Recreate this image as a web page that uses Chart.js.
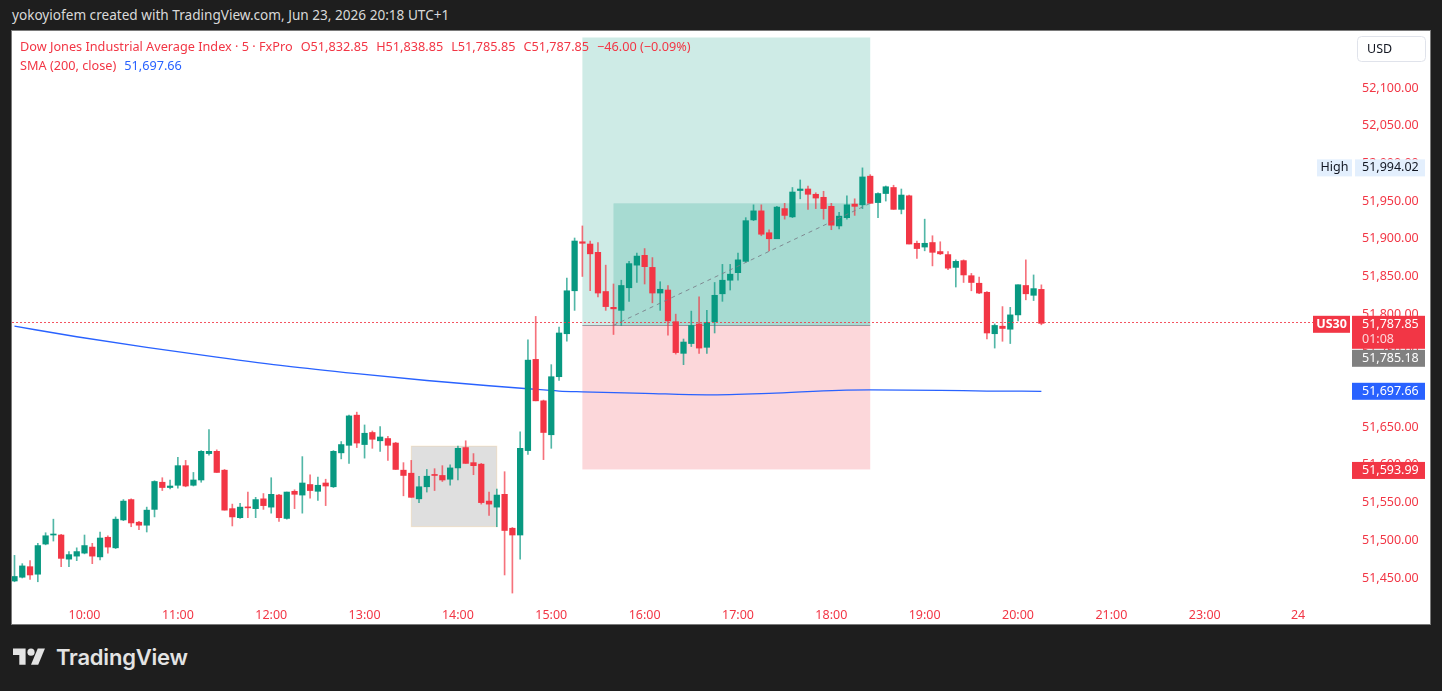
<!DOCTYPE html>
<html>
<head>
<meta charset="utf-8">
<title>Dow Jones Industrial Average Index · 5 · FxPro</title>
<script src="https://cdn.jsdelivr.net/npm/chart.js@4.4.1/dist/chart.umd.min.js"></script>
<style>
  html, body { margin: 0; padding: 0; width: 1442px; height: 691px; overflow: hidden; background: #1e1e1e; font-family: "Noto Sans", sans-serif; }
  #topbar { position: absolute; left: 12px; top: 5px; color: #d9d9d9; font-size: 13.6px; line-height: 20px; white-space: nowrap; }
  #frame { position: absolute; left: 11px; top: 30px; width: 1418px; height: 593px; border: 1px solid #7a7a7a; background: #fff; }
  #frame canvas { position: absolute; left: 0; top: 0; }
  #legend { position: absolute; left: 8px; top: 6px; font-size: 12.7px; line-height: 19px; color: #F23645; white-space: nowrap; pointer-events: none; }
  #legend .v { margin-left: 8px; }
  #legend .sma { color: #2962FF; }
  #footer { position: absolute; left: 13px; top: 645px; height: 26px; color: #e3e3e3; }
  #footer svg { position: absolute; left: 0; top: 0; }
  #footer span { position: absolute; left: 43px; top: -1px; font-family: Inter, sans-serif; font-weight: 600; font-size: 22px; line-height: 26px; letter-spacing: -0.2px; }
</style>
</head>
<body>
<div id="topbar">yokoyiofem created with TradingView.com, Jun 23, 2026 20:18 UTC+1</div>
<div id="frame">
  <canvas id="chart" width="1418" height="593"></canvas>
  <div id="legend">
    <div><span id="title">Dow Jones Industrial Average Index · 5 · FxPro</span><span class="v" id="o"></span><span class="v" id="h"></span><span class="v" id="l"></span><span class="v" id="c"></span><span class="v" id="chg"></span></div>
    <div><span>SMA (200, close)</span><span class="v sma" id="smaLast"></span></div>
  </div>
</div>
<div id="footer">
  <svg width="32.4" height="25.2" viewBox="0 0 36 28" fill="#e3e3e3"><path d="M14 22H7V11H0V4h14v18z"/><circle cx="20" cy="8" r="4"/><path d="M28 22h-8l7.5-18h8L28 22z"/></svg>
  <span>TradingView</span>
</div>
<script>
// 5 minute candles, first one at 09:15
var startTime = '09:15';
var open = [
  51446, 51451, 51465, 51455, 51495, 51507, 51507, 51475, 51479,
  51483, 51491, 51478, 51504, 51490, 51527, 51554, 51524, 51520, 51541, 51577, 51570,
  51573, 51599, 51573, 51580, 51615, 51618, 51593, 51542, 51530, 51544, 51542, 51555,
  51544, 51560, 51529, 51565, 51560, 51574, 51565, 51576, 51571, 51616, 51626, 51666,
  51627, 51643, 51632, 51635, 51629, 51593, 51589, 51555, 51571, 51587, 51586, 51581,
  51596, 51623, 51603, 51601, 51552, 51544, 51561, 51516, 51507, 51619, 51740, 51685,
  51640, 51717, 51774, 51831, 51896, 51893, 51882, 51830, 51809, 51805, 51835, 51865,
  51878, 51862, 51828, 51832, 51790, 51748, 51761, 51787, 51756, 51790, 51827, 51845,
  51855, 51870, 51925, 51937, 51908, 51900, 51940, 51929, 51964, 51966, 51959, 51955,
  51943, 51917, 51928, 51946, 51945, 51983, 51948, 51960, 51968, 51939, 51957, 51894,
  51889, 51895, 51883, 51879, 51862, 51871, 51851, 51841, 51829, 51774, 51784, 51780,
  51799, 51838, 51825, 51832.85
];
var high = [
  51480, 51469, 51473, 51496, 51510, 51528, 51508, 51485, 51490,
  51507, 51496, 51511, 51506, 51531, 51554, 51555, 51525, 51544, 51579, 51583, 51580,
  51610, 51606, 51590, 51619, 51647, 51620, 51594, 51548, 51549, 51564, 51557, 51562,
  51583, 51561, 51564, 51567, 51611, 51587, 51584, 51581, 51619, 51631, 51666, 51670,
  51653, 51645, 51651, 51638, 51630, 51603, 51606, 51585, 51594, 51595, 51599, 51600,
  51625, 51632, 51615, 51602, 51564, 51568, 51591, 51517, 51644, 51766, 51797, 51686,
  51733, 51783, 51848, 51901, 51917, 51897, 51895, 51865, 51840, 51845, 51870, 51881,
  51887, 51875, 51843, 51838, 51800, 51767, 51804, 51823, 51805, 51842, 51866, 51866,
  51881, 51928, 51945, 51945, 51912, 51943, 51947, 51968, 51978, 51970, 51961, 51963,
  51947, 51935, 51957, 51953, 51994.02, 51985, 51961, 51970, 51971, 51966, 51958, 51897,
  51926, 51904, 51896, 51883, 51872, 51872, 51854, 51849, 51830, 51787, 51810, 51809,
  51839, 51872, 51852, 51838.85
];
var low = [
  51445, 51450, 51448, 51445, 51494, 51499, 51465, 51465, 51473,
  51482, 51469, 51474, 51483, 51489, 51526, 51518, 51514, 51511, 51531, 51566, 51568,
  51569, 51571, 51572, 51577, 51613, 51590, 51540, 51519, 51529, 51530, 51530, 51541,
  51536, 51525, 51528, 51542, 51536, 51556, 51553, 51546, 51570, 51608, 51602, 51623,
  51609, 51622, 51618, 51606, 51594, 51559, 51557, 51550, 51564, 51566, 51578, 51573,
  51580, 51602, 51587, 51548, 51533, 51518, 51454, 51430, 51475, 51614, 51685, 51607,
  51622, 51712, 51764, 51805, 51850, 51831, 51823, 51805, 51773, 51785, 51817, 51842,
  51840, 51815, 51805, 51772, 51747, 51733, 51757, 51748, 51748, 51775, 51817, 51832,
  51845, 51869, 51924, 51904, 51884, 51900, 51926, 51928, 51953, 51939, 51940, 51926,
  51912, 51913, 51926, 51931, 51940, 51947, 51928, 51950, 51939, 51933, 51893, 51874,
  51884, 51864, 51879, 51859, 51836, 51842, 51831, 51827, 51767, 51755, 51764, 51761,
  51791, 51819, 51818, 51785.85
];
var close = [
  51452, 51466, 51454, 51493, 51506, 51508, 51476, 51481, 51485,
  51493, 51479, 51503, 51491, 51528, 51552, 51523, 51520, 51540, 51578, 51570, 51572,
  51599, 51572, 51580, 51618, 51618, 51590, 51540, 51531, 51544, 51543, 51554, 51546,
  51561, 51530, 51564, 51561, 51576, 51566, 51573, 51572, 51618, 51627, 51665, 51629,
  51642, 51634, 51637, 51626, 51594, 51586, 51557, 51571, 51585, 51586, 51580, 51596,
  51622, 51602, 51599, 51550, 51548, 51560, 51513, 51507, 51622, 51739, 51685, 51643,
  51717, 51775, 51831, 51897, 51894, 51880, 51828, 51810, 51807, 51838, 51867, 51877,
  51863, 51828, 51833, 51791, 51749, 51763, 51785, 51755, 51789, 51825, 51845, 51853,
  51872, 51924, 51937, 51906, 51900, 51942, 51931, 51962, 51966, 51959, 51954, 51940,
  51918, 51930, 51945, 51943, 51982, 51947, 51960, 51969, 51939, 51958, 51893, 51887,
  51894, 51882, 51880, 51861, 51870, 51852, 51842, 51828, 51775, 51785, 51781, 51799,
  51839, 51827, 51833.85, 51787.85
];

// SMA (200, close), read at a few candles
var smaSlot = [0, 8, 17, 26, 35, 44, 53, 61, 66, 70, 73, 81, 89, 97, 106, 110, 119, 125, 132];
var smaValue = [51784, 51770, 51756, 51743, 51731, 51721, 51712, 51705, 51701, 51698, 51697, 51695, 51693, 51695, 51699, 51699.5, 51699, 51698, 51697.66];

// axes
var timeTicks = ['10:00', '11:00', '12:00', '13:00', '14:00', '15:00', '16:00', '17:00', '18:00', '19:00', '20:00', '21:00', '23:00', '24'];
var closedFrom = '22:00', closedTo = '23:00';
var priceTicks = [51450, 51500, 51550, 51600, 51650, 51700, 51750, 51800, 51850, 51900, 51950, 52000, 52050, 52100, 52150];

// long position and rectangle drawings
var entryPrice = 51785.18;
var stopPrice = 51593.99;
var targetPrice = 52167;
var positionSlots = [73, 110];
var entryFillSlot = 77;
var boxSlots = [51, 62];
var boxPrices = [51625, 51518];

var highLabel = 51994.02;
var countdown = '01:08';
var symbol = 'US30';

var GREEN = '#089981', RED = '#F23645';
var FONT = '"Noto Sans", sans-serif';

function fmt(v) {
  return v.toLocaleString('en-US', { minimumFractionDigits: 2, maximumFractionDigits: 2 });
}
function toMin(t) { var p = t.split(':'); return +p[0] * 60 + +p[1]; }

// slot index -> time label, skipping the closed hour
var slotTimes = [];
(function() {
  var m = toMin(startTime);
  while (slotTimes.length < 200) {
    var d = m % 1440;
    if (!(d >= toMin(closedFrom) && d < toMin(closedTo))) {
      var hh = Math.floor(d / 60), mm = d % 60;
      var s = (hh < 10 ? '0' : '') + hh + ':' + (mm < 10 ? '0' : '') + mm;
      slotTimes.push(s === '00:00' ? '24' : s);
    }
    m += 5;
  }
})();
var tickSlots = timeTicks.map(function(t) { return slotTimes.indexOf(t); });

// legend
(function() {
  var n = close.length - 1;
  var chg = close[n] - close[n - 1];
  var pct = chg / close[n - 1] * 100;
  var sign = chg < 0 ? '\u2212' : '+';
  document.getElementById('o').textContent = 'O' + fmt(open[n]);
  document.getElementById('h').textContent = 'H' + fmt(high[n]);
  document.getElementById('l').textContent = 'L' + fmt(low[n]);
  document.getElementById('c').textContent = 'C' + fmt(close[n]);
  document.getElementById('chg').textContent = sign + fmt(Math.abs(chg)) + ' (' + sign + Math.abs(pct).toFixed(2) + '%)';
  document.getElementById('smaLast').textContent = fmt(smaValue[smaValue.length - 1]);
})();

function candleColor(alpha) {
  return function(c) {
    var i = c.dataIndex;
    var up = close[i] >= open[i];
    if (alpha === 1) return up ? GREEN : RED;
    return up ? 'rgba(8,153,129,' + alpha + ')' : 'rgba(242,54,69,' + alpha + ')';
  };
}

var drawings = {
  id: 'drawings',
  beforeDatasetsDraw: function(chart) {
    var ctx = chart.ctx, a = chart.chartArea, x = chart.scales.x, y = chart.scales.y;
    ctx.save();
    ctx.beginPath();
    ctx.rect(a.left, a.top, a.right - a.left, a.bottom - a.top);
    ctx.clip();

    var x0 = x.getPixelForValue(positionSlots[0]);
    var x1 = x.getPixelForValue(positionSlots[1]);
    var yT = y.getPixelForValue(targetPrice);
    var yE = y.getPixelForValue(entryPrice);
    var yS = y.getPixelForValue(stopPrice);
    ctx.fillStyle = 'rgba(8,153,129,0.2)';
    ctx.fillRect(x0, yT, x1 - x0, yE - yT);
    ctx.fillStyle = 'rgba(242,54,69,0.2)';
    ctx.fillRect(x0, yE, x1 - x0, yS - yE);
    var xf = x.getPixelForValue(entryFillSlot);
    var yC = y.getPixelForValue(close[positionSlots[1]]);
    ctx.fillStyle = 'rgba(8,153,129,0.2)';
    ctx.fillRect(xf, yC, x1 - xf, yE - yC);
    ctx.strokeStyle = 'rgba(120,123,134,0.7)';
    ctx.lineWidth = 1;
    ctx.beginPath();
    ctx.moveTo(x0, Math.round(yE) + 0.5);
    ctx.lineTo(x1, Math.round(yE) + 0.5);
    ctx.stroke();

    var bx0 = x.getPixelForValue(boxSlots[0]), bx1 = x.getPixelForValue(boxSlots[1]);
    var by0 = y.getPixelForValue(boxPrices[0]), by1 = y.getPixelForValue(boxPrices[1]);
    ctx.fillStyle = 'rgba(128,128,128,0.25)';
    ctx.fillRect(bx0, by0, bx1 - bx0, by1 - by0);
    ctx.strokeStyle = 'rgba(255,152,0,0.15)';
    ctx.strokeRect(bx0, by0, bx1 - bx0, by1 - by0);
    ctx.restore();
  },
  afterDatasetsDraw: function(chart) {
    var ctx = chart.ctx, a = chart.chartArea, x = chart.scales.x, y = chart.scales.y;
    ctx.save();
    // dashed line inside the position
    ctx.strokeStyle = 'rgba(120,123,134,0.85)';
    ctx.lineWidth = 1;
    ctx.setLineDash([4, 4]);
    ctx.beginPath();
    ctx.moveTo(x.getPixelForValue(entryFillSlot), y.getPixelForValue(entryPrice));
    ctx.lineTo(x.getPixelForValue(positionSlots[1]), y.getPixelForValue(close[positionSlots[1]]));
    ctx.stroke();
    // last price line
    var yl = Math.round(y.getPixelForValue(close[close.length - 1])) - 0.5;
    ctx.strokeStyle = 'rgba(242,54,69,0.85)';
    ctx.setLineDash([2, 2]);
    ctx.beginPath();
    ctx.moveTo(a.left, yl);
    ctx.lineTo(a.right, yl);
    ctx.stroke();
    ctx.restore();
  },
  afterDraw: function(chart) {
    var ctx = chart.ctx, a = chart.chartArea, y = chart.scales.y;
    var lx = a.right + 1, lw = 73, tx = a.right + 11;
    ctx.save();
    ctx.font = '12.5px ' + FONT;
    ctx.textBaseline = 'middle';

    function box(x0, y0, w, h, fill) { ctx.fillStyle = fill; ctx.fillRect(x0, y0, w, h); }
    function text(t, x0, yc, color, align) {
      ctx.fillStyle = color;
      ctx.textAlign = align || 'left';
      ctx.fillText(t, x0, yc);
    }

    // currency button
    ctx.fillStyle = '#fff';
    ctx.strokeStyle = '#e0e3eb';
    ctx.beginPath();
    ctx.roundRect(a.right + 6.5, 5.5, 68, 25, 4);
    ctx.fill();
    ctx.stroke();
    text('USD', a.right + 16, 18, '#131722');

    // high label
    var yh = y.getPixelForValue(highLabel);
    box(a.right - 34, yh - 8.5, 35, 17, '#e3effd');
    box(lx + 3, yh - 8.5, lw - 3, 17, '#e3effd');
    text('High', a.right - 16.5, yh, '#131722', 'center');
    text(fmt(highLabel), tx, yh, '#131722');

    // last price, countdown, symbol
    var yl = y.getPixelForValue(close[close.length - 1]);
    box(a.right - 38, yl - 7.5, 37, 17, RED);
    ctx.font = 'bold 12.5px ' + FONT;
    text(symbol, a.right - 19.5, yl + 1, '#fff', 'center');
    ctx.font = '12.5px ' + FONT;
    box(lx, yl - 7.5, lw, 33, RED);
    text(fmt(close[close.length - 1]), tx, yl + 1, '#fff');
    text(countdown, tx, yl + 16, 'rgba(255,255,255,0.8)');

    // entry price
    box(lx, yl + 26.5, lw, 17, '#808080');
    text(fmt(entryPrice), tx, yl + 35, '#fff');

    // SMA
    var ys = y.getPixelForValue(smaValue[smaValue.length - 1]);
    box(lx, ys - 8.5, lw, 17, '#2962FF');
    text(fmt(smaValue[smaValue.length - 1]), tx, ys, '#fff');

    // stop
    var yst = y.getPixelForValue(stopPrice);
    box(lx, yst - 7.5, lw, 17, RED);
    text(fmt(stopPrice), tx, yst + 1, '#fff');
    ctx.restore();
  }
};

var candles = open.map(function(o, i) { return i; });

new Chart(document.getElementById('chart'), {
  type: 'bar',
  data: {
    datasets: [
      {
        type: 'line',
        label: 'SMA (200, close)',
        data: smaSlot.map(function(s, i) { return { x: s, y: smaValue[i] }; }),
        borderColor: '#2962FF',
        borderWidth: 1.3,
        pointRadius: 0,
        tension: 0.4,
        cubicInterpolationMode: 'monotone',
        order: 3
      },
      {
        label: 'wick',
        data: candles.map(function(i) { return { x: i, y: [low[i], high[i]] }; }),
        backgroundColor: candleColor(0.7),
        barThickness: 1,
        grouped: false,
        order: 2
      },
      {
        label: 'body',
        data: candles.map(function(i) { return { x: i, y: [open[i], close[i]] }; }),
        backgroundColor: candleColor(1),
        barThickness: 5.6,
        minBarLength: 1,
        grouped: false,
        order: 1
      }
    ]
  },
  options: {
    responsive: false,
    animation: false,
    layout: { padding: 0 },
    plugins: { legend: { display: false }, tooltip: { enabled: false } },
    scales: {
      x: {
        type: 'linear',
        min: -0.32,
        max: 171.8,
        offset: false,
        grid: { display: false },
        border: { display: false },
        afterBuildTicks: function(s) { s.ticks = tickSlots.map(function(v) { return { value: v }; }); },
        afterFit: function(s) { s.height = 28; s.paddingLeft = 0; s.paddingRight = 0; },
        ticks: {
          autoSkip: false,
          maxRotation: 0,
          padding: 4,
          color: RED,
          font: { family: FONT, size: 12.5 },
          callback: function(v) { return slotTimes[v]; }
        }
      },
      y: {
        type: 'linear',
        position: 'right',
        min: 51426.1,
        max: 52175.6,
        grid: { display: false, drawTicks: false },
        border: { display: false },
        afterBuildTicks: function(s) { s.ticks = priceTicks.map(function(v) { return { value: v }; }); },
        afterFit: function(s) { s.width = 79; s.paddingTop = 0; s.paddingBottom = 0; },
        ticks: {
          autoSkip: false,
          padding: 11,
          color: RED,
          font: { family: FONT, size: 12.5 },
          callback: function(v) { return fmt(v); }
        }
      }
    }
  },
  plugins: [drawings]
});
</script>
</body>
</html>
